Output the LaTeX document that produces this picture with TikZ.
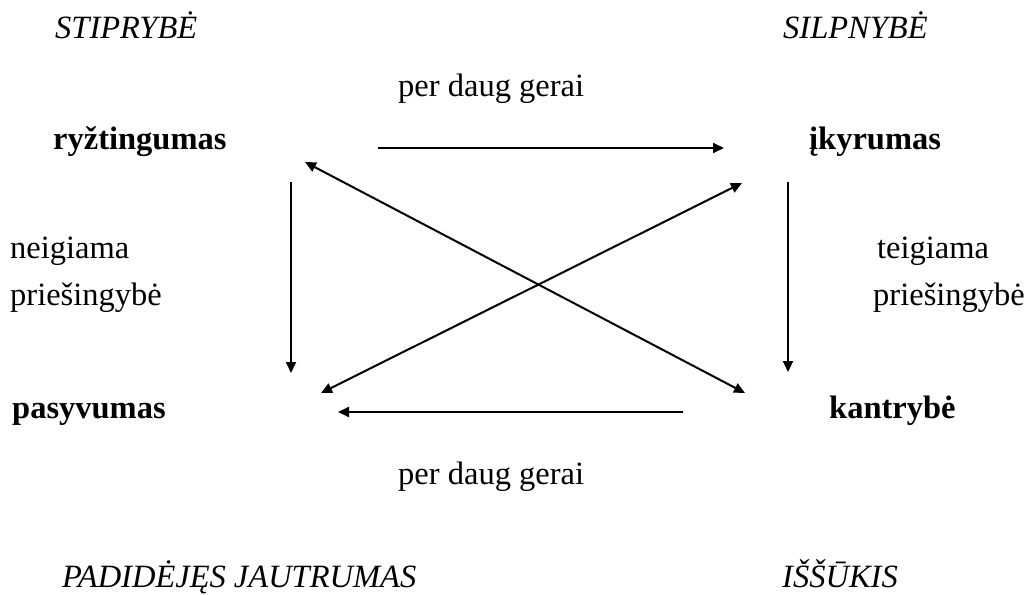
\documentclass[tikz,border=0pt]{standalone}
\usepackage{fontspec}
\setmainfont{Liberation Serif}
\usetikzlibrary{arrows.meta}
\tikzset{
  lbl/.style={anchor=base west, inner sep=0pt, font=\fontsize{32.5}{39}\selectfont},
  bld/.style={lbl, font=\fontsize{32.5}{39}\selectfont\bfseries},
  itl/.style={lbl, font=\fontsize{32.5}{39}\selectfont\itshape},
  arr/.style={line width=2pt, -{Triangle[length=11pt,width=10pt]}},
  darr/.style={line width=2pt, {Triangle[length=11pt,width=10pt]}-{Triangle[length=11pt,width=10pt]}}
}
\begin{document}
\begin{tikzpicture}[x=1pt,y=-1pt]
\useasboundingbox (0,0) rectangle (1027,594);
\node[itl] (stip) at (55,39) {STIPRYBĖ};
\node[itl] (silp) at (783,39) {SILPNYBĖ};
\node[lbl] (pdg1) at (398,96) {per daug gerai};
\node[bld] (ryz) at (53,149) {ryžtingumas};
\node[bld] (iky) at (809,149) {įkyrumas};
\node[lbl] (neig) at (10,258) {neigiama};
\node[lbl] (pries1) at (10,305) {priešingybė};
\node[lbl] (teig) at (877,258) {teigiama};
\node[lbl] (pries2) at (873,305) {priešingybė};
\node[bld] (pas) at (12,418) {pasyvumas};
\node[bld] (kan) at (829,418) {kantrybė};
\node[lbl] (pdg2) at (398,484) {per daug gerai};
\node[itl] (pad) at (62,587) {PADIDĖJĘS JAUTRUMAS};
\node[itl] (iss) at (782,587) {IŠŠŪKIS};
\coordinate (t1) at (378,148); \coordinate (t2) at (724,148);
\coordinate (b1) at (683,412); \coordinate (b2) at (338,412);
\coordinate (l1) at (291,182); \coordinate (l2) at (291,373);
\coordinate (r1) at (788,182); \coordinate (r2) at (788,372);
\coordinate (d1a) at (305,162); \coordinate (d1b) at (745,393);
\coordinate (d2a) at (742,183); \coordinate (d2b) at (321,393);
\draw[arr] (t1) -- (t2);
\draw[arr] (b1) -- (b2);
\draw[arr] (l1) -- (l2);
\draw[arr] (r1) -- (r2);
\draw[darr] (d1a) -- (d1b);
\draw[darr] (d2a) -- (d2b);
\end{tikzpicture}
\end{document}
